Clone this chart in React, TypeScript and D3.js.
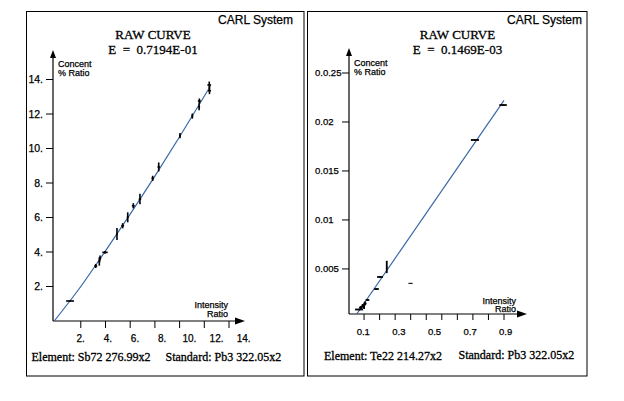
import React from 'react';
import * as d3 from 'd3';

// ---------- Left panel (Sb72) ----------
const sbX = [1.13, 3.21, 3.5, 3.56, 3.96, 4.93, 5.39, 5.8, 6.25, 6.79, 7.82, 8.31, 10.03, 11.03, 11.6, 11.58, 12.4, 12.42];
const sbY = [1.16, 3.19, 3.44, 3.65, 3.98, 5.04, 5.52, 6.01, 6.68, 7.07, 8.27, 8.93, 10.75, 11.88, 12.75, 12.42, 13.68, 13.35];
const sbErrX = [0.32, 0.12, 0.08, 0.1, 0.22, 0.08, 0.12, 0.08, 0.12, 0.1, 0.1, 0.1, 0.08, 0.08, 0.12, 0.08, 0.15, 0.12];
const sbErrY = [0.03, 0.12, 0.23, 0.15, 0.08, 0.35, 0.15, 0.29, 0.15, 0.3, 0.15, 0.26, 0.15, 0.15, 0.15, 0.2, 0.2, 0.2];
const sbCurveX = [-0.15, 2, 4, 6, 8, 10, 12.5];
const sbCurveY = [0, 2.0, 4.07, 6.2, 8.4, 10.68, 13.62];
const sbYTicks = [2, 4, 6, 8, 10, 12, 14];
const sbYTickLabels = ['2.', '4.', '6.', '8.', '10.', '12.', '14.'];
const sbXTicks = [2, 4, 6, 8, 10, 12, 14];
const sbXTickLabels = ['2.', '4.', '6.', '8.', '10.', '12.', '14.'];

// ---------- Right panel (Te22) ----------
const teX = [0.994, 0.813, 0.246, 0.203, 0.18, 0.399, 0.122, 0.106, 0.093, 0.08, 0.068, 0.1];
const teY = [0.02173, 0.01816, 0.0052, 0.00418, 0.00295, 0.00353, 0.00183, 0.00147, 0.00127, 0.00106, 0.00086, 0.0011];
const teErrX = [0.024, 0.026, 0.004, 0.019, 0.015, 0.014, 0.012, 0.01, 0.01, 0.012, 0.026, 0.006];
const teErrY = [0.00005, 0.00005, 0.00063, 0.00005, 0.00005, 0.00003, 0.00005, 0.0002, 0.00015, 0.00015, 0.00008, 0.0002];
const teLineX = [0.053, 1.0];
const teLineY = [0.0004, 0.0222];
const teYTicks = [0.005, 0.01, 0.015, 0.02, 0.025];
const teYTickLabels = ['0.005', '0.01', '0.015', '0.02', '0.0.25'];
const teXTicks = [0.1, 0.2, 0.3, 0.4, 0.5, 0.6, 0.7, 0.8, 0.9, 1.0];
const teXLabelValues = [0.1, 0.3, 0.5, 0.7, 0.9];
const teXTickLabels = ['0.1', '0.3', '0.5', '0.7', '0.9'];

const SANS = '"Liberation Sans", Arial, sans-serif';
const SERIF = '"Liberation Serif", "Times New Roman", serif';
const LINE = '#3a68a6';

const sansDark = { stroke: '#000', strokeWidth: 0.25 } as const;
const serifDark = { stroke: '#000', strokeWidth: 0.3 } as const;

export default function App() {
  // left scales
  const xL = d3.scaleLinear().domain([-0.25, 14]).range([53, 229]);
  const yL = d3.scaleLinear().domain([0, 14]).range([321, 79.5]);
  const xLlab = d3.scaleLinear().domain([2, 14]).range([80.7, 243.7]);
  // right scales
  const xR = d3.scaleLinear().domain([0, 1]).range([348.5, 504]);
  const yR = d3.scaleLinear().domain([0.0004, 0.025]).range([314, 73]);
  const xRlab = d3.scaleLinear().domain([0.1, 0.9]).range([363.3, 505.7]);

  const sbLine = d3
    .line<number>()
    .x((_, i) => xL(sbCurveX[i]))
    .y((d) => yL(d))
    .curve(d3.curveMonotoneX)(sbCurveY) as string;
  const teLine = d3
    .line<number>()
    .x((_, i) => xR(teLineX[i]))
    .y((d) => yR(d))(teLineY) as string;

  const axL0x = xL(-0.25);
  const axL0y = yL(0);
  const axR0x = xR(0) + 0.5;
  const axR0y = yR(0.0004);

  return (
    <svg
      width={624}
      height={401}
      style={{ position: 'absolute', left: 0, top: 0, background: '#fff' }}
    >
      <rect x={0} y={0} width={624} height={401} fill="#fff" />
      {/* panel frames */}
      <rect x={26.5} y={11.5} width={277.5} height={364.5} fill="none" stroke="#000" strokeWidth={1} />
      <rect x={307.5} y={11.5} width={279.5} height={364.5} fill="none" stroke="#000" strokeWidth={1} />

      {/* ---------- LEFT ---------- */}
      <g>
        <text x={293} y={23.5} fontFamily={SANS} fontSize={12} textAnchor="end" {...sansDark}>CARL System</text>
        <text x={153} y={38.5} fontFamily={SERIF} fontSize={13} textAnchor="middle" {...serifDark}>RAW CURVE</text>
        <text x={153} y={54} fontFamily={SERIF} fontSize={13} textAnchor="middle" style={{ whiteSpace: 'pre' }} {...serifDark}>
          {'E  =  0.7194E-01'}
        </text>
        <text x={58} y={66.5} fontFamily={SANS} fontSize={9} {...sansDark}>Concent</text>
        <text x={58} y={76} fontFamily={SANS} fontSize={9} {...sansDark}>% Ratio</text>
        <text x={228} y={307.5} fontFamily={SANS} fontSize={9} textAnchor="end" {...sansDark}>Intensity</text>
        <text x={228} y={316.5} fontFamily={SANS} fontSize={9} textAnchor="end" {...sansDark}>Ratio</text>

        {/* axes */}
        <line x1={axL0x} y1={axL0y} x2={axL0x} y2={56} stroke="#000" strokeWidth={1.2} />
        <path d={`M${axL0x},50 L${axL0x - 3},58 L${axL0x + 3},58 Z`} fill="#000" />
        <line x1={axL0x} y1={axL0y} x2={237} y2={axL0y} stroke="#000" strokeWidth={1.2} />
        <path d={`M245,${axL0y} L235,${axL0y - 3.5} L235,${axL0y + 3.5} Z`} fill="#000" />

        {sbYTicks.map((t, i) => (
          <g key={'ly' + t}>
            <line x1={axL0x - 7} x2={axL0x} y1={yL(t)} y2={yL(t)} stroke="#000" strokeWidth={1} />
            <text x={43} y={yL(t) + 3.6} fontFamily={SANS} fontSize={10.5} textAnchor="end" {...sansDark}>{sbYTickLabels[i]}</text>
          </g>
        ))}
        {sbXTicks.map((t, i) => (
          <g key={'lx' + t}>
            <line x1={xL(t)} x2={xL(t)} y1={axL0y} y2={axL0y + 7} stroke="#000" strokeWidth={1} />
            <text x={xLlab(t)} y={341.5} fontFamily={SANS} fontSize={10} textAnchor="middle" {...sansDark}>{sbXTickLabels[i]}</text>
          </g>
        ))}

        <path d={sbLine} fill="none" stroke={LINE} strokeWidth={1.2} />
        {sbX.map((x, i) => (
          <g key={'lp' + i} stroke="#000" strokeWidth={1.6}>
            <line x1={xL(x - sbErrX[i])} x2={xL(x + sbErrX[i])} y1={yL(sbY[i])} y2={yL(sbY[i])} />
            <line x1={xL(x)} x2={xL(x)} y1={yL(sbY[i] - sbErrY[i])} y2={yL(sbY[i] + sbErrY[i])} />
          </g>
        ))}

        <text x={31.5} y={361} fontFamily={SERIF} fontSize={12} {...serifDark}>Element: Sb72 276.99x2</text>
        <text x={165.5} y={361} fontFamily={SERIF} fontSize={12} {...serifDark}>Standard: Pb3 322.05x2</text>
      </g>

      {/* ---------- RIGHT ---------- */}
      <g>
        <text x={582} y={24} fontFamily={SANS} fontSize={12} textAnchor="end" {...sansDark}>CARL System</text>
        <text x={457.5} y={38.5} fontFamily={SERIF} fontSize={13} textAnchor="middle" {...serifDark}>RAW CURVE</text>
        <text x={457.5} y={54} fontFamily={SERIF} fontSize={13} textAnchor="middle" style={{ whiteSpace: 'pre' }} {...serifDark}>
          {'E  =  0.1469E-03'}
        </text>
        <text x={354} y={65.7} fontFamily={SANS} fontSize={9} {...sansDark}>Concent</text>
        <text x={354} y={75} fontFamily={SANS} fontSize={9} {...sansDark}>% Ratio</text>
        <text x={516} y={303.5} fontFamily={SANS} fontSize={9} textAnchor="end" {...sansDark}>Intensity</text>
        <text x={516} y={312} fontFamily={SANS} fontSize={9} textAnchor="end" {...sansDark}>Ratio</text>

        <line x1={axR0x} y1={axR0y} x2={axR0x} y2={54} stroke="#000" strokeWidth={1.2} />
        <path d={`M${axR0x},48 L${axR0x - 3},56 L${axR0x + 3},56 Z`} fill="#000" />
        <line x1={axR0x} y1={axR0y} x2={519} y2={axR0y} stroke="#000" strokeWidth={1.2} />
        <path d={`M527,${axR0y} L517,${axR0y - 3.5} L517,${axR0y + 3.5} Z`} fill="#000" />

        {teYTicks.map((t, i) => (
          <g key={'ry' + t}>
            <line x1={axR0x - 7} x2={axR0x} y1={yR(t)} y2={yR(t)} stroke="#000" strokeWidth={1} />
            <text x={315} y={yR(t) + 3.3} fontFamily={SANS} fontSize={9.5} {...sansDark}>{teYTickLabels[i]}</text>
          </g>
        ))}
        {teXTicks.map((t) => (
          <line key={'rx' + t} x1={xR(t)} x2={xR(t)} y1={axR0y} y2={axR0y + 6} stroke="#000" strokeWidth={1} />
        ))}
        {teXLabelValues.map((t, i) => (
          <text key={'rxl' + t} x={xRlab(t)} y={335} fontFamily={SANS} fontSize={9.5} textAnchor="middle" {...sansDark}>{teXTickLabels[i]}</text>
        ))}

        <path d={teLine} fill="none" stroke={LINE} strokeWidth={1.2} />
        {teX.map((x, i) => (
          <g key={'rp' + i} stroke="#000" strokeWidth={i === 5 ? 1 : 1.8}>
            <line x1={xR(x - teErrX[i])} x2={xR(x + teErrX[i])} y1={yR(teY[i])} y2={yR(teY[i])} />
            <line x1={xR(x)} x2={xR(x)} y1={yR(teY[i] - teErrY[i])} y2={yR(teY[i] + teErrY[i])} />
          </g>
        ))}

        <text x={324} y={360} fontFamily={SERIF} fontSize={12} {...serifDark}>Element: Te22 214.27x2</text>
        <text x={458.5} y={358.5} fontFamily={SERIF} fontSize={12} {...serifDark}>Standard: Pb3 322.05x2</text>
      </g>
    </svg>
  );
}
